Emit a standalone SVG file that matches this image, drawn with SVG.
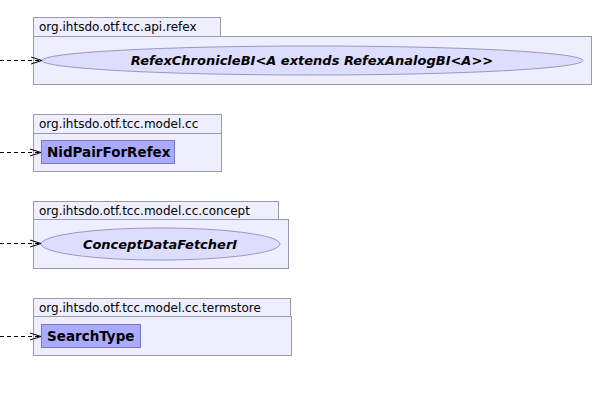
<svg xmlns="http://www.w3.org/2000/svg" width="594" height="401" viewBox="0 0 594 401">
<style>
.pkg{fill:#eeeeff;stroke:#9a9aaa;stroke-width:1}
.cls{fill:#aaaaff;stroke:#7777bb;stroke-width:1}
.ell{fill:#ddddff;stroke:#9999bb;stroke-width:1}
.pt{font-family:"DejaVu Sans",sans-serif;font-size:12px;fill:#000}
.ct{font-family:"DejaVu Sans",sans-serif;font-size:13px;font-weight:bold;fill:#000}
.cb{font-size:13.5px}
.it{font-style:italic}
.dep{fill:none;stroke:#000;stroke-width:1;stroke-dasharray:4,3}
</style>
<defs>
<marker id="open" viewBox="0 0 12 10" refX="11" refY="5" markerWidth="12" markerHeight="10" markerUnits="userSpaceOnUse" orient="auto">
<path d="M0,1.5 L11,5 L0,8.5" fill="none" stroke="#000" stroke-width="1"/>
</marker>
</defs>
<rect width="594" height="401" fill="#fff"/>
<g id="pkg-refex">
<rect class="pkg" x="33.5" y="17.5" width="187" height="19"/>
<rect class="pkg" x="33.5" y="36.5" width="558" height="48"/>
<text class="pt" x="39" y="31">org.ihtsdo.otf.tcc.api.refex</text>
<g id="RefexChronicleBI">
<ellipse class="ell" cx="312.5" cy="60.5" rx="270.5" ry="14.5"/>
<text class="ct it" x="312" y="65" text-anchor="middle">RefexChronicleBI&lt;A extends RefexAnalogBI&lt;A&gt;&gt;</text>
</g>
</g>
<g id="pkg-cc">
<rect class="pkg" x="33.5" y="114.5" width="188" height="19"/>
<rect class="pkg" x="33.5" y="133.5" width="188" height="38"/>
<text class="pt" x="39" y="128">org.ihtsdo.otf.tcc.model.cc</text>
<g id="NidPairForRefex">
<rect class="cls" x="41.5" y="140.5" width="133" height="23"/>
<text class="ct cb" x="47" y="157">NidPairForRefex</text>
</g>
</g>
<g id="pkg-concept">
<rect class="pkg" x="33.5" y="201.5" width="245" height="18"/>
<rect class="pkg" x="33.5" y="219.5" width="255" height="49"/>
<text class="pt" x="39" y="215">org.ihtsdo.otf.tcc.model.cc.concept</text>
<g id="ConceptDataFetcherI">
<ellipse class="ell" cx="160.5" cy="244" rx="119.5" ry="16"/>
<text class="ct it" x="160" y="249" text-anchor="middle">ConceptDataFetcherI</text>
</g>
</g>
<g id="pkg-termstore">
<rect class="pkg" x="33.5" y="298.5" width="257" height="18"/>
<rect class="pkg" x="33.5" y="316.5" width="258" height="39"/>
<text class="pt" x="39" y="312">org.ihtsdo.otf.tcc.model.cc.termstore</text>
<g id="SearchType">
<rect class="cls" x="41.5" y="324.5" width="99" height="23"/>
<text class="ct cb" x="47" y="341">SearchType</text>
</g>
</g>
<g id="connectors">
<path class="dep" d="M0,60.5 L42,60.5" marker-end="url(#open)"/>
<path class="dep" d="M0,152.5 L41,152.5" marker-end="url(#open)"/>
<path class="dep" d="M0,243.5 L41,243.5" marker-end="url(#open)"/>
<path class="dep" d="M0,336.5 L41,336.5" marker-end="url(#open)"/>
</g>
</svg>
